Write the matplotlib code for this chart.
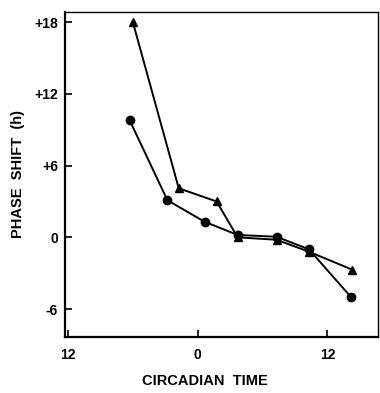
import matplotlib
matplotlib.use("Agg")
import matplotlib.pyplot as plt

# circadian time (h) of the pulse, phase shift (h)
ct_tri = [-6.0, -1.75, 1.75, 3.7, 7.3, 10.3, 14.3]
shift_tri = [18.0, 4.1, 3.0, 0.0, -0.2, -1.2, -2.7]

ct_dot = [-6.3, -2.8, 0.65, 3.7, 7.3, 10.3, 14.2]
shift_dot = [9.8, 3.1, 1.3, 0.2, 0.05, -1.0, -5.0]

xticks = [-12, 0, 12]
xticklabels = ["12", "0", "12"]
yticks = [18, 12, 6, 0, -6]
yticklabels = ["+18", "+12", "+6", "0", "-6"]

plt.rcParams['font.family'] = ['Liberation Sans', 'DejaVu Sans']
plt.rcParams['font.weight'] = 'bold'

fig = plt.figure(figsize=(3.8, 3.93), dpi=100)
ax = fig.add_axes([0.171, 0.1425, 0.824, 0.827])

ax.plot(ct_tri, shift_tri, color='black', lw=1.4, marker='^', ms=5.5)
ax.plot(ct_dot, shift_dot, color='black', lw=1.4, marker='o', ms=6)

ax.set_xlim(-12.28, 16.7)
ax.set_ylim(-8.33, 18.84)
ax.set_xticks(xticks)
ax.set_xticklabels(xticklabels)
ax.set_yticks(yticks)
ax.set_yticklabels(yticklabels)
ax.tick_params(direction='in', length=5, width=1.2, labelsize=10)
ax.tick_params(axis='x', pad=8)
ax.tick_params(axis='y', pad=5)

for s in ['left', 'bottom']:
    ax.spines[s].set_linewidth(1.6)
for s in ['top', 'right']:
    ax.spines[s].set_linewidth(1.0)

ax.set_xlabel('CIRCADIAN  TIME', fontsize=10.5, fontweight='bold')
ax.set_ylabel('PHASE  SHIFT  (h)', fontsize=10.5, fontweight='bold')
ax.xaxis.set_label_coords(0.447, -0.115)
ax.yaxis.set_label_coords(-0.128, 0.5)

plt.savefig("out.png", dpi=100)
